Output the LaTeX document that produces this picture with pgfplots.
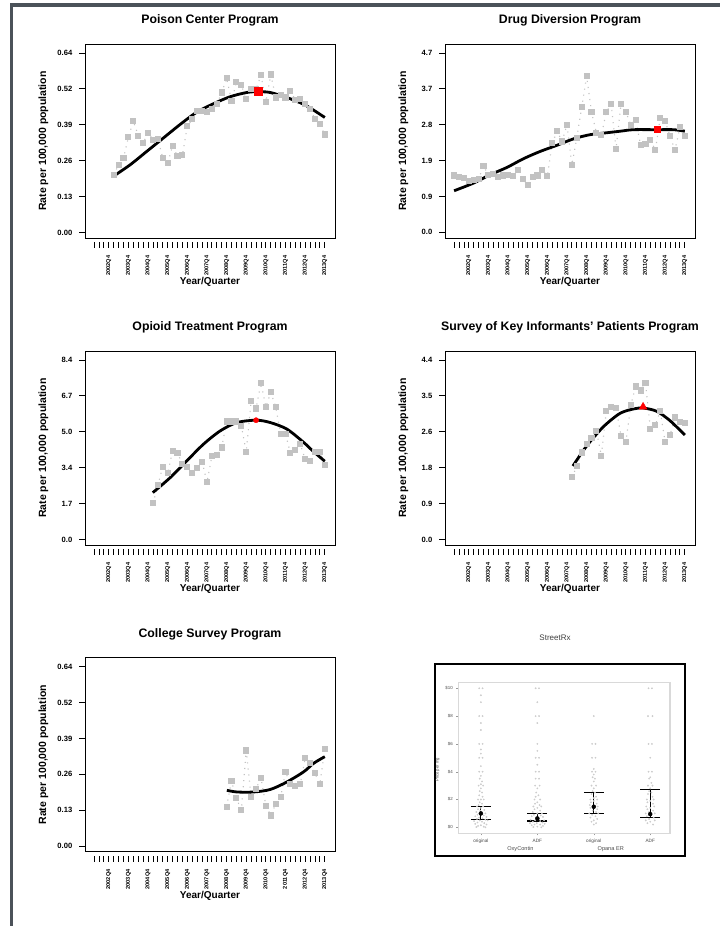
\documentclass[border=0pt]{standalone}
\usepackage{pgfplots}
\pgfplotsset{compat=1.18}
\usepackage{fontspec}
\setmainfont{Liberation Sans}
\definecolor{framec}{HTML}{4B5259}
\definecolor{ptgray}{HTML}{C2C2C2}
\definecolor{dotgray}{HTML}{CCCCCC}
\pgfplotsset{
  prog/.style={
    scale only axis, width=250pt, height=194pt, anchor=south west,
    xmin=-0.85, xmax=50.08,
    axis line style={line width=0.9pt},
    tick align=outside, tick pos=left,
    major tick length=6pt, minor tick length=6pt,
    xtick={4,8,...,48},
    xticklabels={2002Q4,2003Q4,2004Q4,2005Q4,2006Q4,2007Q4,2008Q4,2009Q4,2010Q4,2011Q4,2012Q4,2013Q4},
    minor xtick={1,...,48},
    xtick style={black, line width=0.8pt, yshift=-4pt},
    ytick style={black, line width=0.8pt},
    xticklabel style={font=\fontsize{5.6}{6}\selectfont\bfseries, rotate=90, anchor=east},
    xticklabel shift=8.2pt,
    yticklabel style={font=\fontsize{7.6}{8}\selectfont\bfseries},
    yticklabel shift=3.2pt,
    title style={font=\fontsize{12.3}{14}\selectfont\bfseries, at={(axis description cs:0.5,1.089)}, anchor=center},
    xlabel style={font=\fontsize{10}{12}\selectfont\bfseries, at={(axis description cs:0.5,-0.2268)}, anchor=center},
    ylabel style={font=\fontsize{10.5}{12}\selectfont\bfseries, at={(axis description cs:-0.1668,0.5)}, anchor=center},
    xlabel={Year/Quarter},
    ylabel={Rate per 100,000 population},
  },
  obs/.style={ptgray, line width=1.1pt, dash pattern=on 1.1pt off 5pt,
    mark=square*, mark size=2.5pt, mark options={solid, draw=none, fill=ptgray}},
  fit/.style={black, line width=2.8pt, smooth},
  lowscale/.style={ymin=-0.02, ymax=0.672,
    ytick={0,0.128,0.256,0.384,0.512,0.64},
    yticklabels={0.00,0.13,0.26,0.39,0.52,0.64}},
}
\begin{document}
\begin{tikzpicture}
\path[fill=white] (0pt,0pt) rectangle (720pt,926pt);
\fill[framec] (10pt,0pt) rectangle (13.3pt,922.7pt);
\fill[framec] (10pt,919.3pt) rectangle (720pt,922.7pt);

% ---------------- Poison Center ----------------
\begin{axis}[prog, lowscale, at={(85pt,688pt)}, title={Poison Center Program}]
\addplot[obs] table {
q v
5 0.205
6 0.241
7 0.265
8 0.340
9 0.397
10 0.345
11 0.319
12 0.355
13 0.331
14 0.333
15 0.265
16 0.247
17 0.309
18 0.271
19 0.277
20 0.379
21 0.403
22 0.433
23 0.433
24 0.430
25 0.439
26 0.457
27 0.499
28 0.550
29 0.469
30 0.535
31 0.525
32 0.475
33 0.513
34 0.511
35 0.561
36 0.466
37 0.563
38 0.481
39 0.489
40 0.481
41 0.505
42 0.472
43 0.477
44 0.457
45 0.439
46 0.405
47 0.385
48 0.349
};
\addplot[fit] table {
q v
5 0.201
8.34 0.241
11.74 0.289
15.14 0.337
18.53 0.385
21.93 0.429
25.33 0.459
28.73 0.484
32.12 0.499
34.5 0.502
36.88 0.499
40.28 0.481
43.68 0.457
45.72 0.436
48 0.410
};
\addplot[only marks, mark=square*, mark size=4pt, red] coordinates {(34.5,0.502)};
\end{axis}

% ---------------- Drug Diversion ----------------
\begin{axis}[prog, at={(445pt,688pt)}, title={Drug Diversion Program},
  ymin=-0.147, ymax=4.935,
  ytick={0,0.94,1.88,2.82,3.76,4.7}, yticklabels={0.0,0.9,1.9,2.8,3.7,4.7}]
\addplot[obs] table {
q v
1 1.49
2 1.44
3 1.42
4 1.35
5 1.38
6 1.41
7 1.73
8 1.51
9 1.53
10 1.44
11 1.49
12 1.51
13 1.47
14 1.64
15 1.41
16 1.23
17 1.44
18 1.49
19 1.64
20 1.48
21 2.34
22 2.65
23 2.38
24 2.82
25 1.77
26 2.47
27 3.28
28 4.09
29 3.15
30 2.60
31 2.54
32 3.15
33 3.36
34 2.19
35 3.36
36 3.15
37 2.82
38 2.95
39 2.28
40 2.31
41 2.43
42 2.15
43 3.00
44 2.91
45 2.52
46 2.15
47 2.75
48 2.53
};
\addplot[fit] table {
q v
1 1.09
4.94 1.29
8.34 1.51
11.74 1.70
15.14 1.93
18.53 2.12
21.93 2.28
25.33 2.45
28.73 2.56
32.12 2.61
34.84 2.65
37.56 2.69
42.32 2.69
45.72 2.69
48 2.65
};
\addplot[only marks, mark=square*, mark size=3pt, red] coordinates {(42.3,2.69)};
\end{axis}

% ---------------- Opioid Treatment ----------------
\begin{axis}[prog, at={(85pt,381pt)}, title={Opioid Treatment Program},
  ymin=-0.2625, ymax=8.82,
  ytick={0,1.68,3.36,5.04,6.72,8.4}, yticklabels={0.0,1.7,3.4,5.0,6.7,8.4}]
\addplot[obs] table {
q v
13 1.69
14 2.53
15 3.41
16 3.10
17 4.15
18 4.04
19 3.52
20 3.41
21 3.10
22 3.36
23 3.64
24 2.67
25 3.89
26 3.96
27 4.30
28 5.52
29 5.52
30 5.52
31 5.32
32 4.10
33 6.49
34 6.13
35 7.32
36 6.21
37 6.88
38 6.21
39 4.93
40 4.93
41 4.04
42 4.18
43 4.46
44 3.75
45 3.68
46 4.11
47 4.11
48 3.49
};
\addplot[fit] table {
q v
12.96 2.19
16.5 2.89
19.9 3.68
23.3 4.46
26.7 5.08
30.1 5.47
34.0 5.58
36.9 5.47
40.3 5.16
43.7 4.54
45.7 4.11
48 3.66
};
\addplot[only marks, mark=*, mark size=2.6pt, red] coordinates {(34.0,5.58)};
\end{axis}

% ---------------- SKIP ----------------
\begin{axis}[prog, at={(445pt,381pt)}, title={Survey of Key Informants{\char"0027} Patients Program},
  ymin=-0.1375, ymax=4.62,
  ytick={0,0.88,1.76,2.64,3.52,4.4}, yticklabels={0.0,0.9,1.8,2.6,3.5,4.4}]
\addplot[obs] table {
q v
25 1.52
26 1.79
27 2.13
28 2.35
29 2.48
30 2.66
31 2.05
32 3.14
33 3.25
34 3.22
35 2.54
36 2.38
37 3.30
38 3.75
39 3.65
40 3.83
41 2.70
42 2.81
43 3.14
44 2.38
45 2.56
46 2.99
47 2.87
48 2.85
};
\addplot[fit] table {
q v
25.2 1.80
28.0 2.29
31.4 2.76
34.8 3.09
37.6 3.20
39.6 3.22
42.3 3.14
45.0 2.91
48 2.56
};
\addplot[only marks, mark=triangle*, mark size=4.5pt, red] coordinates {(39.5,3.25)};
\end{axis}

% ---------------- College Survey ----------------
\begin{axis}[prog, lowscale, at={(85pt,74.3pt)}, title={College Survey Program}]
\addplot[obs] table {
q v
28 0.141
29 0.232
30 0.170
31 0.129
32 0.341
33 0.174
34 0.205
35 0.243
36 0.144
37 0.109
38 0.150
39 0.174
40 0.265
41 0.220
42 0.215
43 0.221
44 0.313
45 0.295
46 0.260
47 0.221
48 0.347
};
\addplot[fit] table {
q v
28.05 0.199
30.1 0.193
33.5 0.193
36.9 0.202
40.3 0.229
43.7 0.265
45.7 0.295
48 0.319
};
\end{axis}

% ---------------- StreetRx ----------------
\draw[line width=1.3pt] (435pt,70pt) rectangle (685pt,262pt);
\begin{axis}[scale only axis, width=211.7pt, height=151pt, at={(458.3pt,92.7pt)}, anchor=south west,
  xmin=0.6, xmax=4.35, ymin=-0.43, ymax=10.43, clip=false,
  axis line style={black!15, line width=1.2pt},
  xtick={1,2,3,4}, xticklabels={original,ADF,original,ADF},
  ytick={0,2,4,6,8,10}, yticklabels={\$0,\$2,\$4,\$6,\$8,\$10},
  tick pos=left,
  tick style={black!40, line width=0.4pt}, major tick length=2pt, tick align=outside,
  xticklabel style={font=\fontsize{4.7}{5}\selectfont, text=black!70},
  yticklabel style={font=\fontsize{4.4}{5}\selectfont, text=black!70},
  ylabel={Price per mg},
  ylabel style={font=\fontsize{4.2}{5}\selectfont, text=black!70, at={(axis description cs:-0.098,0.42)}, anchor=center},
  title={StreetRx},
  title style={font=\fontsize{8}{9}\selectfont, text=black!75, at={(axis description cs:0.457,1.255)}, anchor=center}]
\addplot[only marks, mark=*, mark size=0.65pt, dotgray] coordinates {
(0.97,10) (1.03,10) (1,9.5) (1,9) (0.97,8) (1.03,8) (1,7.5) (1,7) (0.97,6) (1.03,6)
(1,5.6) (1,5.3) (0.97,5) (1.03,5) (1,4.4) (0.97,4) (1.03,4) (1,3.7) (0.98,3.5) (1.02,3.3)
(1,3.1) (0.96,3) (1.04,3) (1,2.8) (0.98,2.6) (1.02,2.5) (0.97,2.3) (1.03,2.2) (0.95,2) (1,2)
(1.05,2) (0.98,1.8) (1.02,1.7) (0.96,1.6) (1.04,1.5) (0.93,1.5) (1.0,1.4) (0.95,1.3) (1.06,1.25) (0.99,1.2)
(0.92,1.1) (1.08,1.0) (1.0,1.0) (0.94,0.9) (1.05,0.85) (0.9,0.8) (1.1,0.75) (0.97,0.7) (1.03,0.65) (0.93,0.6)
(1.08,0.55) (0.98,0.5) (1.12,0.5) (0.88,0.45) (1.02,0.4) (0.94,0.35) (1.06,0.3) (0.9,0.25) (1.1,0.2) (1.0,0.15)
(0.95,0.1) (1.05,0.05) (0.92,0.02) (1.08,0.0)
};
\addplot[only marks, mark=*, mark size=0.65pt, dotgray] coordinates {
(1.97,10) (2.03,10) (2,9) (1.97,8) (2.03,8) (2,7.5) (2,6) (2,5.5) (1.97,5) (2.03,5)
(2,4.5) (1.97,4) (2.03,4) (1.97,3.5) (2.03,3.5) (1.96,3) (2.04,3) (2,2.8) (1.98,2.5) (2.02,2.3)
(1.97,2.2) (1.95,2) (2.05,2) (2,1.8) (1.96,1.7) (2.04,1.6) (1.93,1.5) (2.07,1.5) (2,1.4) (1.95,1.3)
(2.05,1.2) (1.92,1.1) (2.0,1.0) (2.08,1.0) (1.94,0.9) (2.06,0.85) (1.9,0.8) (2.1,0.75) (1.98,0.7) (2.03,0.6)
(1.88,0.55) (2.12,0.5) (1.96,0.5) (2.05,0.45) (1.92,0.4) (2.09,0.35) (1.99,0.3) (1.87,0.3) (2.13,0.25) (1.95,0.2)
(2.05,0.2) (1.9,0.15) (2.1,0.1) (2.0,0.05) (1.93,0.02) (2.07,0.0)
};
\addplot[only marks, mark=*, mark size=0.65pt, dotgray] coordinates {
(3,8) (2.97,6) (3.03,6) (2.97,5) (3.03,5) (3,4.2) (2.97,4) (3.03,4) (3,3.8) (2.98,3.6)
(3.02,3.5) (3,3.3) (2.96,3) (3.04,3) (3,2.8) (2.98,2.6) (3.02,2.5) (2.96,2.4) (3.04,2.2) (3,2.1)
(2.94,2) (3.06,2) (3.0,1.9) (2.95,1.8) (3.05,1.7) (2.93,1.6) (3.07,1.5) (3.0,1.5) (2.94,1.4) (3.06,1.3)
(2.98,1.2) (3.04,1.1) (2.92,1.0) (3.08,1.0) (2.97,0.9) (3.03,0.8) (2.94,0.7) (3.06,0.6) (3.0,0.5) (2.96,0.4)
(3.04,0.3) (3.0,0.2)
};
\addplot[only marks, mark=*, mark size=0.65pt, dotgray] coordinates {
(3.97,10) (4.03,10) (3.96,8) (4.04,8) (3.97,6) (4.03,6) (4,5) (3.97,4) (4.03,4) (4,3.6)
(3.98,3.5) (4.02,3.2) (3.96,3) (4.04,3) (4,2.8) (3.98,2.6) (4.02,2.5) (3.96,2.4) (4.04,2.2) (3.94,2)
(4.06,2) (4,1.9) (3.95,1.8) (4.05,1.7) (3.93,1.5) (4.07,1.5) (4,1.4) (3.95,1.3) (4.05,1.2) (3.98,1.1)
(3.92,1.0) (4.08,1.0) (4.0,0.9) (3.94,0.8) (4.06,0.7) (3.98,0.6) (3.92,0.5) (4.08,0.5) (4.0,0.4) (3.95,0.3)
(4.05,0.2)
};
\addplot[only marks, mark=*, mark size=2pt, black,
  error bars/.cd, y dir=both, y explicit,
  error bar style={line width=0.8pt, black},
  error mark options={rotate=90, mark size=10pt, line width=1.2pt, black}]
  coordinates {
  (1,1.00) += (0,0.48) -= (0,0.43)
  (2,0.64) += (0,0.36) -= (0,0.19)
  (3,1.48) += (0,1.00) -= (0,0.48)
  (4,0.95) += (0,1.76) -= (0,0.26)
};
\node[font=\fontsize{5.6}{6}\selectfont, text=black!70] at (axis cs:1.7,-1.56) {OxyContin};
\node[font=\fontsize{5.6}{6}\selectfont, text=black!70] at (axis cs:3.3,-1.56) {Opana ER};
\end{axis}
\end{tikzpicture}
\end{document}
